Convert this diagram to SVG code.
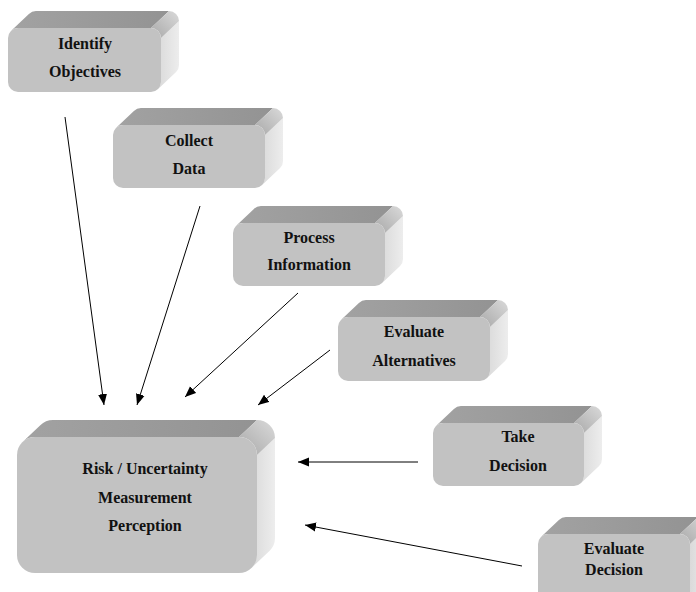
<svg xmlns="http://www.w3.org/2000/svg" width="696" height="592" viewBox="0 0 696 592">
  <defs>
    <linearGradient id="topGrad" x1="0" y1="0" x2="1" y2="0">
      <stop offset="0" stop-color="#a2a2a2"/>
      <stop offset="1" stop-color="#939393"/>
    </linearGradient>
    <linearGradient id="sideGrad" x1="0" y1="0" x2="1" y2="0">
      <stop offset="0" stop-color="#dadada"/>
      <stop offset="1" stop-color="#ededed"/>
    </linearGradient>
    <linearGradient id="edgeGrad" x1="0" y1="1" x2="1" y2="0">
      <stop offset="0" stop-color="#a8a8a8"/>
      <stop offset="1" stop-color="#dadada"/>
    </linearGradient>
    <marker id="arrow" viewBox="0 0 11 10" refX="11" refY="5" markerWidth="11" markerHeight="10" markerUnits="userSpaceOnUse" orient="auto">
      <path d="M0,0.5 L11,5 L0,9.5 Z" fill="#000"/>
    </marker>
  </defs>
  <style>
    .top { fill: url(#topGrad); }
    .side { fill: url(#sideGrad); }
    .edge { fill: url(#edgeGrad); }
    .front { fill: #c2c2c2; }
    .label { font-family: "Liberation Serif", "Times New Roman", serif; font-weight: bold; font-size: 16px; fill: #111; text-anchor: middle; }
    .conn { stroke: #000; stroke-width: 1; fill: none; marker-end: url(#arrow); }
  </style>

  <!-- Extruded box: front face at (x,y,w,h), depth (18,-17), corner radius 10 -->
  <g id="identify-objectives">
    <path class="top" d="M10.9,30.9 A10,10 0 0 1 18,28 L151,28 L169,11 L36,11 A10,10 0 0 0 28.9,13.9 Z"/>
    <path class="side" d="M161,38 L179,21 L179,65 A10,10 0 0 1 176.1,72.1 L158.1,89.1 A10,10 0 0 0 161,82 Z"/>
    <path class="edge" d="M151,28 L169,11 A10,10 0 0 1 179,21 L161,38 A10,10 0 0 0 151,28 Z"/>
    <rect class="front" x="8" y="28" width="153" height="64" rx="10"/>
    <text class="label" x="85" y="49">Identify</text>
    <text class="label" x="85" y="77">Objectives</text>
  </g>

  <g id="collect-data">
    <path class="top" d="M115.9,127.9 A10,10 0 0 1 123,125 L255,125 L273,108 L141,108 A10,10 0 0 0 133.9,110.9 Z"/>
    <path class="side" d="M265,135 L283,118 L283,161 A10,10 0 0 1 280.1,168.1 L262.1,185.1 A10,10 0 0 0 265,178 Z"/>
    <path class="edge" d="M255,125 L273,108 A10,10 0 0 1 283,118 L265,135 A10,10 0 0 0 255,125 Z"/>
    <rect class="front" x="113" y="125" width="152" height="63" rx="10"/>
    <text class="label" x="189" y="146">Collect</text>
    <text class="label" x="189" y="174">Data</text>
  </g>

  <g id="process-information">
    <path class="top" d="M235.9,225.9 A10,10 0 0 1 243,223 L375,223 L393,206 L261,206 A10,10 0 0 0 253.9,208.9 Z"/>
    <path class="side" d="M385,233 L403,216 L403,259 A10,10 0 0 1 400.1,266.1 L382.1,283.1 A10,10 0 0 0 385,276 Z"/>
    <path class="edge" d="M375,223 L393,206 A10,10 0 0 1 403,216 L385,233 A10,10 0 0 0 375,223 Z"/>
    <rect class="front" x="233" y="223" width="152" height="63" rx="10"/>
    <text class="label" x="309" y="243">Process</text>
    <text class="label" x="309" y="270">Information</text>
  </g>

  <g id="evaluate-alternatives">
    <path class="top" d="M340.9,319.9 A10,10 0 0 1 348,317 L480,317 L498,300 L366,300 A10,10 0 0 0 358.9,302.9 Z"/>
    <path class="side" d="M490,327 L508,310 L508,354 A10,10 0 0 1 505.1,361.1 L487.1,378.1 A10,10 0 0 0 490,371 Z"/>
    <path class="edge" d="M480,317 L498,300 A10,10 0 0 1 508,310 L490,327 A10,10 0 0 0 480,317 Z"/>
    <rect class="front" x="338" y="317" width="152" height="64" rx="10"/>
    <text class="label" x="414" y="337">Evaluate</text>
    <text class="label" x="414" y="366">Alternatives</text>
  </g>

  <g id="take-decision">
    <path class="top" d="M435.9,425.9 A10,10 0 0 1 443,423 L574,423 L592,406 L461,406 A10,10 0 0 0 453.9,408.9 Z"/>
    <path class="side" d="M584,433 L602,416 L602,459 A10,10 0 0 1 599.1,466.1 L581.1,483.1 A10,10 0 0 0 584,476 Z"/>
    <path class="edge" d="M574,423 L592,406 A10,10 0 0 1 602,416 L584,433 A10,10 0 0 0 574,423 Z"/>
    <rect class="front" x="433" y="423" width="151" height="63" rx="10"/>
    <text class="label" x="518" y="442">Take</text>
    <text class="label" x="518" y="471">Decision</text>
  </g>

  <g id="evaluate-decision">
    <path class="top" d="M540.9,536.9 A10,10 0 0 1 548,534 L680,534 L698,517 L566,517 A10,10 0 0 0 558.9,519.9 Z"/>
    <path class="side" d="M690,544 L708,527 L708,590 L690,600 Z"/>
    <path class="edge" d="M680,534 L698,517 A10,10 0 0 1 708,527 L690,544 A10,10 0 0 0 680,534 Z"/>
    <rect class="front" x="538" y="534" width="152" height="70" rx="10"/>
    <text class="label" x="614" y="554">Evaluate</text>
    <text class="label" x="614" y="575">Decision</text>
  </g>

  <g id="risk-uncertainty">
    <path class="top" d="M22.3,442.3 A18,18 0 0 1 35,437 L239,437 L257,420 L53,420 A18,18 0 0 0 40.3,425.3 Z"/>
    <path class="side" d="M257,455 L275,438 L275,538 A18,18 0 0 1 269.7,550.7 L251.7,567.7 A18,18 0 0 0 257,555 Z"/>
    <path class="edge" d="M239,437 L257,420 A18,18 0 0 1 275,438 L257,455 A18,18 0 0 0 239,437 Z"/>
    <rect class="front" x="17" y="437" width="240" height="136" rx="18"/>
    <text class="label" x="145" y="474">Risk / Uncertainty</text>
    <text class="label" x="145" y="503">Measurement</text>
    <text class="label" x="145" y="531">Perception</text>
  </g>

  <g id="connectors">
    <line class="conn" x1="65" y1="117" x2="104" y2="405"/>
    <line class="conn" x1="200" y1="206" x2="137" y2="405"/>
    <line class="conn" x1="298" y1="293" x2="185" y2="397"/>
    <line class="conn" x1="330" y1="350" x2="258" y2="405"/>
    <line class="conn" x1="418" y1="462" x2="298" y2="462"/>
    <line class="conn" x1="522" y1="566" x2="305" y2="525"/>
  </g>
</svg>
